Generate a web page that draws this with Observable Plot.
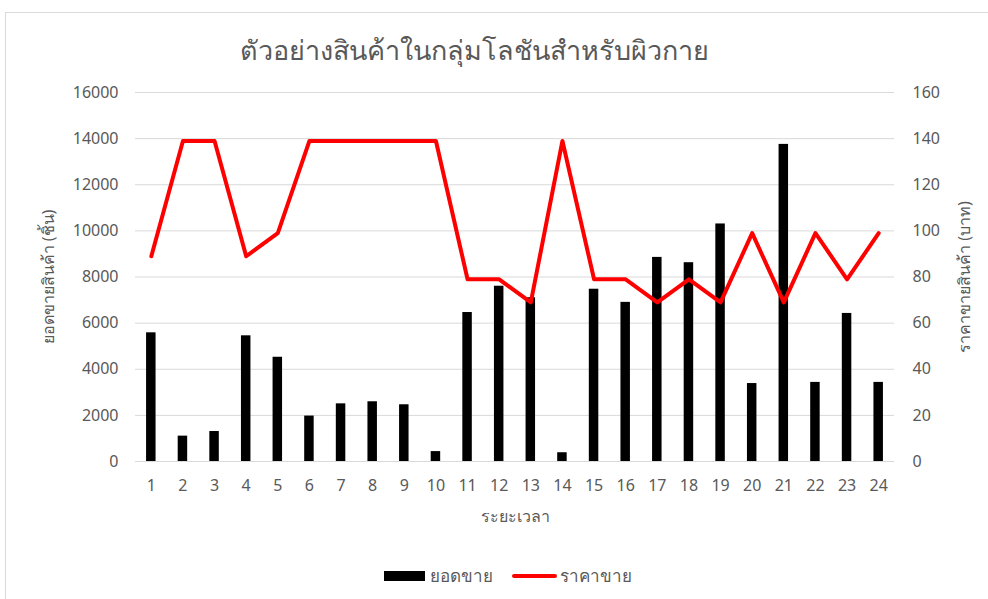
<!DOCTYPE html>
<html>
<head>
<meta charset="utf-8">
<script src="https://cdn.jsdelivr.net/npm/d3@7"></script>
<script src="https://cdn.jsdelivr.net/npm/@observablehq/plot@0.6"></script>
<style>
  html, body { margin: 0; padding: 0; background: #fff; }
  body { width: 988px; height: 599px; overflow: hidden; position: relative;
         font-family: Tahoma, "Noto Sans", "DejaVu Sans", sans-serif; }
  #frame { position: absolute; left: 5px; top: 12px; width: 1000px; height: 620px;
           border: 1px solid #d9d9d9; box-sizing: border-box; }
  #title { position: absolute; left: 0; width: 948px; top: 29px; text-align: center;
           font-size: 27px; color: #595959; }
  #chart { position: absolute; left: 0; top: 0; }
  #legend { position: absolute; top: 562px; left: 384px; font-size: 17px; color: #595959;
            display: flex; align-items: center; }
  .sw-bar { width: 41px; height: 10px; background: #000; margin-right: 5px; }
  .sw-line { width: 45px; height: 4px; background: #ff0000; border-radius: 2px; margin: 0 3px 0 19px; }
</style>
</head>
<body>
<div id="frame"></div>
<div id="title">ตัวอย่างสินค้าในกลุ่มโลชันสำหรับผิวกาย</div>
<div id="chart"></div>
<div id="legend"><div class="sw-bar"></div><span>ยอดขาย</span><div class="sw-line"></div><span>ราคาขาย</span></div>
<script>
const periods = [1,2,3,4,5,6,7,8,9,10,11,12,13,14,15,16,17,18,19,20,21,22,23,24];
const sales = [5580,1100,1300,5450,4520,1970,2500,2590,2460,430,6460,7600,7100,380,7470,6900,8850,8620,10300,3380,13750,3430,6420,3430];
const prices = [89,139,139,89,99,139,139,139,139,139,79,79,69,139,79,79,69,79,69,99,69,99,79,99];
const leftTicks = [0,2000,4000,6000,8000,10000,12000,14000,16000];
const rightTicks = [0,20,40,60,80,100,120,140,160];
const ratio = 100; // secondary axis: 160 ↔ 16000

const data = periods.map((p, i) => ({period: p, sales: sales[i], price: prices[i]}));

const chart = Plot.plot({
  width: 988,
  height: 599,
  marginTop: 92,
  marginBottom: 138,
  marginLeft: 135,
  marginRight: 94,
  style: {fontFamily: 'Tahoma, "Noto Sans", "DejaVu Sans", sans-serif', fontSize: "16px", color: "#595959", background: "transparent"},
  x: {type: "band", domain: periods, paddingInner: 0.7, paddingOuter: 0.35, round: false},
  y: {domain: [0, 16000]},
  marks: [
    Plot.gridY(leftTicks, {stroke: "#d9d9d9", strokeOpacity: 1, strokeWidth: 1}),
    Plot.barY(data, {x: "period", y: "sales", fill: "#000"}),
    Plot.lineY(data, {x: "period", y: d => d.price * ratio, stroke: "#ff0000", strokeWidth: 4, strokeLinejoin: "round", strokeLinecap: "round"}),
    Plot.axisX({tickSize: 0, tickPadding: 18, fontSize: 16, label: "ระยะเวลา", labelAnchor: "center", labelOffset: 60, labelArrow: "none"}),
    Plot.axisY(leftTicks, {anchor: "left", tickSize: 0, tickPadding: 17, tickFormat: d => String(d), fontSize: 16,
      label: "ยอดขายสินค้า (ชิ้น)", labelAnchor: "center", labelOffset: 93, labelArrow: "none"}),
    Plot.axisY(rightTicks.map(t => t * ratio), {anchor: "right", tickSize: 0, tickPadding: 18, tickFormat: d => String(d / ratio), fontSize: 16,
      label: "ราคาขายสินค้า (บาท)", labelAnchor: "center", labelOffset: 75, labelArrow: "none"}),
    Plot.ruleY([0], {stroke: "#d9d9d9", strokeWidth: 1})
  ]
});
document.getElementById("chart").appendChild(chart);
</script>
</body>
</html>
